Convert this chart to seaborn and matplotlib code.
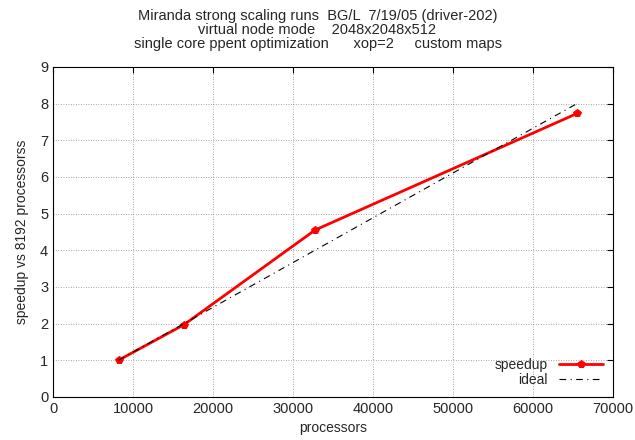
import matplotlib
matplotlib.use("Agg")
import matplotlib.pyplot as plt
import seaborn as sns
import pandas as pd

# data
processors = [8192, 16384, 32768, 65536]
speedup = [1.0, 1.97, 4.55, 7.73]
ideal_procs = [8192, 65536]
ideal = [1.0, 8.0]

sns.set_style("white")
plt.rcParams['font.family'] = ['Liberation Sans', 'DejaVu Sans']

df = pd.DataFrame({"processors": processors, "speedup": speedup})
df_ideal = pd.DataFrame({"processors": ideal_procs, "speedup": ideal})

fig = plt.figure(figsize=(6.35, 4.4), dpi=100)
ax = fig.add_axes([0.0835, 0.098, 0.8815, 0.75])

sns.lineplot(data=df, x="processors", y="speedup", ax=ax, color="red",
             linewidth=2, marker="p", markersize=6, markeredgecolor="red",
             label="speedup", zorder=3)
sns.lineplot(data=df_ideal, x="processors", y="speedup", ax=ax, color="black",
             linewidth=0.8, linestyle=(0, (6, 4, 1, 4)), label="ideal", zorder=4)

ax.set_xlim(0, 70000)
ax.set_ylim(0, 9)
ax.set_xticks(range(0, 70001, 10000))
ax.set_yticks(range(0, 10))
ax.grid(True, color="#888888", linestyle=(0, (1, 2)), linewidth=0.6)
for s in ax.spines.values():
    s.set_color("black")
    s.set_linewidth(0.8)
ax.tick_params(labelsize=10.5, length=4, direction="in", color="black",
               top=True, right=True)

ax.set_xlabel("processors", fontsize=10, labelpad=4)
ax.set_ylabel("speedup vs 8192 processorss", fontsize=10, labelpad=8)
fig.suptitle("Miranda strong scaling runs  BG/L  7/19/05 (driver-202)\n"
             "virtual node mode    2048x2048x512\n"
             "single core ppent optimization      xop=2     custom maps",
             fontsize=10.5, y=0.98, linespacing=1.0)

leg = ax.legend(loc="lower right", frameon=False, fontsize=10, markerfirst=False,
                handlelength=3.2, borderaxespad=0.3, labelspacing=0.1)
for t in leg.get_texts():
    t.set_ha("right")

fig.savefig("out.png", dpi=100)
